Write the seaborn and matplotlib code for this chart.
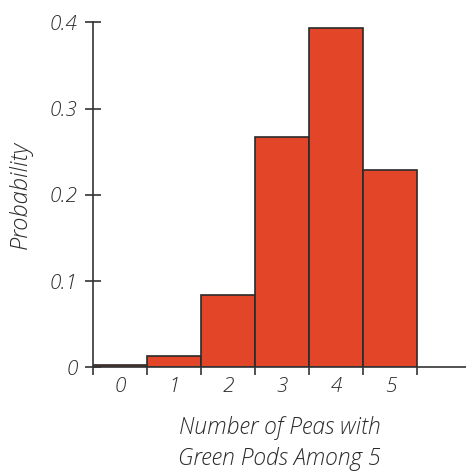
import matplotlib
matplotlib.use("Agg")
import matplotlib.pyplot as plt
import seaborn as sns
import pandas as pd

# values
green_pods = [0, 1, 2, 3, 4, 5]
probability = [0.003, 0.013, 0.084, 0.267, 0.394, 0.229]
y_ticks = [0, 0.1, 0.2, 0.3, 0.4]
y_tick_labels = ["0", "0.1", "0.2", "0.3", "0.4"]

df = pd.DataFrame({"pods": green_pods, "prob": probability})

sns.set_style("white")
plt.rcParams["font.family"] = ["Open Sans", "DejaVu Sans"]
txt = dict(fontstyle="italic", fontweight="light", color="#2b2b2b")

fig = plt.figure(figsize=(4.66, 4.73), dpi=100)
ax = fig.add_axes([0.2, 0.2235, 0.8, 0.729])

sns.barplot(data=df, x="pods", y="prob", color="#E24527", saturation=1,
            width=1.0, edgecolor="#2a2a2a", linewidth=1.2, ax=ax)

ax.set_xlim(-0.5, 6.4)
ax.set_ylim(0, 0.4)

# tick marks at bar edges, labels at bar centres
ax.set_xticks([i - 0.5 for i in range(len(green_pods) + 1)])
ax.set_xticklabels([])
ax.set_xticks(range(len(green_pods)), minor=True)
ax.set_xticklabels([str(v) for v in green_pods], minor=True, fontsize=15, **txt)
ax.tick_params(axis="x", which="major", bottom=True, direction="out", length=6,
               width=1.2, color="#333333")
ax.tick_params(axis="x", which="minor", bottom=True, length=0, pad=7)

ax.set_yticks(y_ticks)
ax.set_yticklabels(y_tick_labels, fontsize=15, **txt)
ax.tick_params(axis="y", left=True, direction="inout", length=12, width=1.2,
               color="#333333", pad=5)

for s in ["top", "right"]:
    ax.spines[s].set_visible(False)
for s in ["left", "bottom"]:
    ax.spines[s].set_color("#333333")
    ax.spines[s].set_linewidth(1.2)

ax.set_xlabel("Number of Peas with\nGreen Pods Among 5", fontsize=16.5, labelpad=14,
              linespacing=1.35, **txt)
ax.set_ylabel("Probability", fontsize=17, labelpad=12, **txt)

fig.savefig("out.png", dpi=100)
